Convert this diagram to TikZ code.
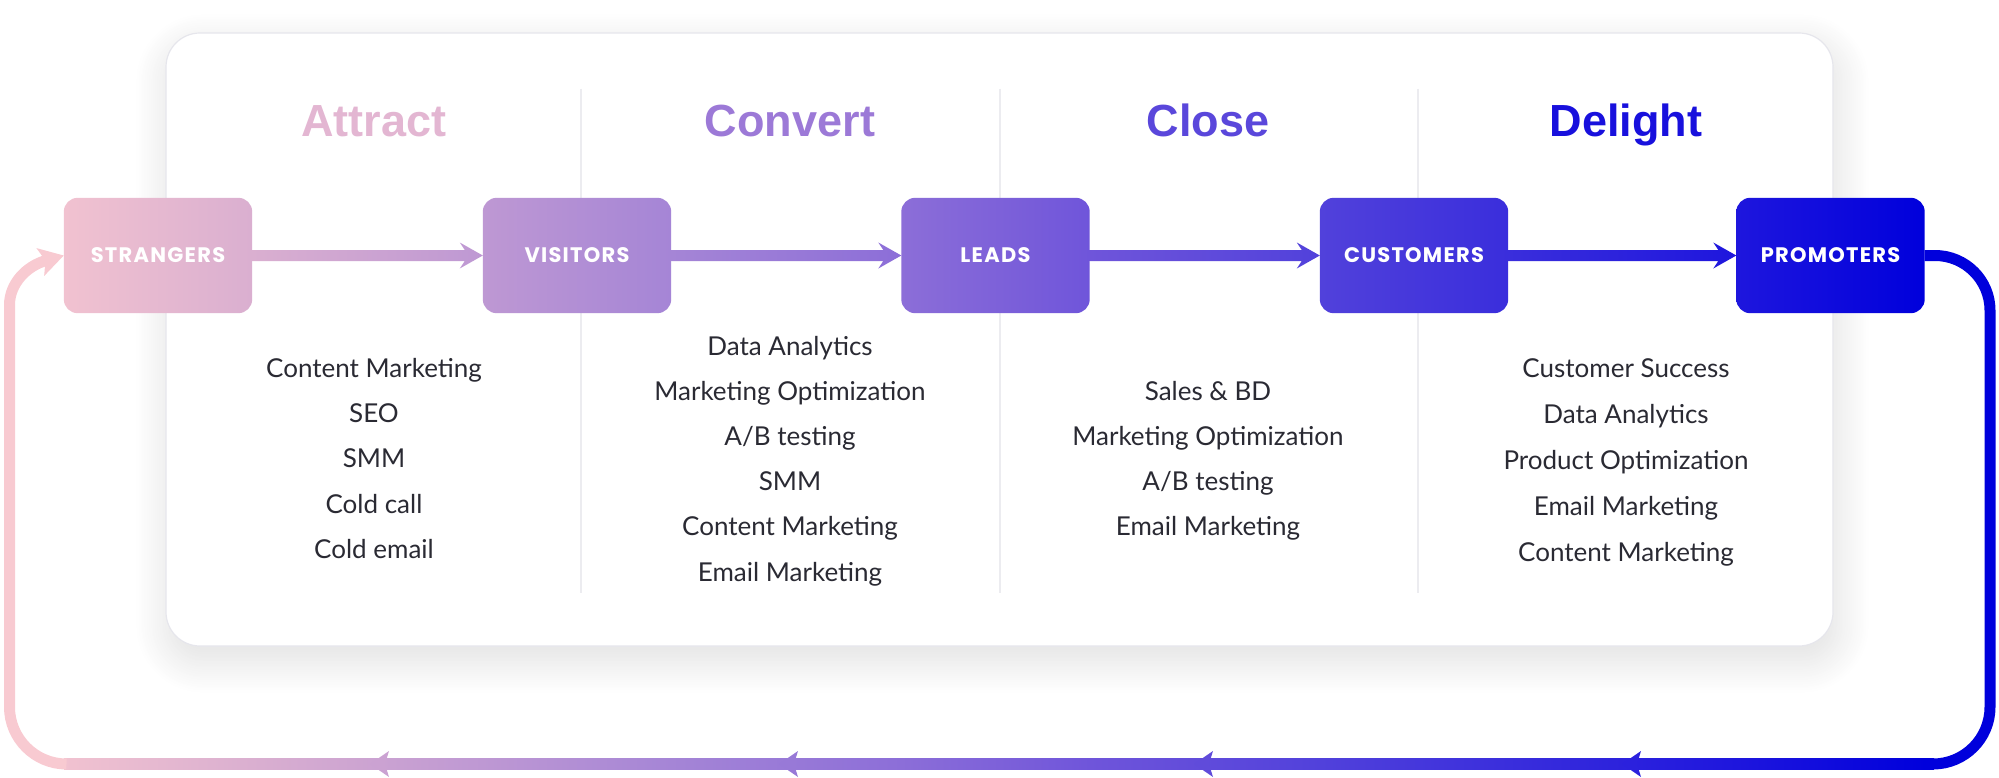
\documentclass[tikz,border=0pt]{standalone}
\usepackage{fontspec}
\setmainfont{Lato}
\newfontfamily\headfont{Liberation Sans}
\newfontfamily\boxfont[LetterSpace=6]{Poppins}
\usetikzlibrary{arrows.meta,calc,shadows.blur}
\definecolor{g0}{HTML}{F8CAD1}
\definecolor{g1}{HTML}{F1C2D0}
\definecolor{g2}{HTML}{DAAFD0}
\definecolor{g3}{HTML}{BE98D3}
\definecolor{g4}{HTML}{A585D6}
\definecolor{g5}{HTML}{8C6ED8}
\definecolor{g6}{HTML}{6F55DA}
\definecolor{g7}{HTML}{5141DB}
\definecolor{g8}{HTML}{3A2EDC}
\definecolor{g9}{HTML}{1E16DD}
\definecolor{g10}{HTML}{0000DC}
\definecolor{g11}{HTML}{0000DC}
\definecolor{hA}{HTML}{E3B6D2}
\definecolor{hB}{HTML}{9C79D7}
\definecolor{hC}{HTML}{5A47DB}
\definecolor{hD}{HTML}{1810DD}
\definecolor{ink}{HTML}{2A2A33}
\definecolor{cardline}{HTML}{E6E6EC}
\definecolor{divc}{HTML}{ECECF0}
\definecolor{m1}{HTML}{CBA2D2}
\definecolor{m2}{HTML}{9879D7}
\definecolor{m3}{HTML}{604BDA}
\definecolor{m4}{HTML}{2B21DD}
\pgfdeclarehorizontalshading{funnel}{100bp}{color(0bp)=(g0); color(25bp)=(g0); color(26.6bp)=(g1); color(31.3bp)=(g2); color(37.06bp)=(g3); color(41.78bp)=(g4); color(47.54bp)=(g5); color(52.26bp)=(g6); color(58.02bp)=(g7); color(62.72bp)=(g8); color(68.42bp)=(g9); color(73.15bp)=(g10); color(75bp)=(g11); color(100bp)=(g11)}
\pgfdeclarelayer{bg}
\pgfdeclarelayer{mid}
\pgfsetlayers{bg,mid,main}
\begin{document}
\begin{tikzpicture}[x=1pt,y=-1pt,
  stage/.style={minimum width=188pt, minimum height=115pt, inner sep=0pt, text=white,
    font=\boxfont\bfseries\fontsize{21}{24}\selectfont},
  head/.style={anchor=base, font=\headfont\bfseries\fontsize{45}{50}\selectfont},
  item/.style={anchor=base, text=ink, font=\fontsize{26}{30}\selectfont, inner sep=0pt},
  loopline/.style={line width=11pt},
  divider/.style={draw=divc, line width=1.3pt}]
\useasboundingbox (0,0) rectangle (1999,778);

% stages
\node[stage] (str) at (158,255.5) {STRANGERS};
\node[stage] (vis) at (577,255.5) {VISITORS};
\node[stage] (lea) at (995.5,255.5) {LEADS};
\node[stage] (cus) at (1414,255.5) {CUSTOMERS};
\node[stage] (pro) at (1830.5,255.5) {PROMOTERS};

% headings
\node[head,text=hA] (hatt) at (374,137) {Attract};
\node[head,text=hB] (hcon) at (790,137) {Convert};
\node[head,text=hC] (hclo) at (1208,137) {Close};
\node[head,text=hD] (hdel) at (1626,137) {Delight};

% lists
\foreach \t [count=\i] in {Content Marketing, SEO, SMM, Cold call, Cold email}
  \node[item] (a\i) at (374,{377+45.4*(\i-1)}) {\t};
\foreach \t [count=\i] in {Data Analytics, Marketing Optimization, A/B testing, SMM, Content Marketing, Email Marketing}
  \node[item] (b\i) at (790,{355+45.2*(\i-1)}) {\t};
\foreach \t [count=\i] in {Sales \& BD, Marketing Optimization, A/B testing, Email Marketing}
  \node[item] (c\i) at (1208,{400+45.2*(\i-1)}) {\t};
\foreach \t [count=\i] in {Customer Success, Data Analytics, Product Optimization, Email Marketing, Content Marketing}
  \node[item] (d\i) at (1626,{377+46*(\i-1)}) {\t};

\begin{pgfonlayer}{bg}
  \draw[fill=white, draw=cardline, line width=1.2pt, rounded corners=34pt,
    blur shadow={shadow xshift=3pt, shadow yshift=-14pt, shadow blur radius=34pt,
      shadow blur steps=30, shadow opacity=13}]
    (166,33) rectangle (1833,646);
  \foreach \x in {581,1000,1418}
    \draw[divider] (\x,89) -- (\x,593);
\end{pgfonlayer}

\begin{pgfonlayer}{mid}
  % box fills with global gradient
  \foreach \n in {str,vis,lea,cus,pro} {
    \begin{scope}
      \clip[rounded corners=14pt] (\n.south west) rectangle (\n.north east);
      \shade[shading=funnel] (0,0) rectangle (1999,778);
    \end{scope}
  }
  % arrows between stages
  \foreach \a/\b in {str/vis,vis/lea,lea/cus,cus/pro} {
    \begin{scope}
      \clip ($(\a.east)+(0,-5.5)$) -- ($(\b.west)+(-18,-5.5)$) -- ($(\b.west)+(-23,-13)$)
        -- (\b.west) -- ($(\b.west)+(-23,13)$) -- ($(\b.west)+(-18,5.5)$)
        -- ($(\a.east)+(0,5.5)$) -- cycle;
      \shade[shading=funnel] (0,0) rectangle (1999,778);
    \end{scope}
  }
  % return loop: bottom straight part
  \begin{scope}
    \clip (64,758.5) rectangle (1934,769.5);
    \shade[shading=funnel] (0,0) rectangle (1999,778);
  \end{scope}
  % right part
  \draw[loopline, draw=g11] (pro.east) -- (1935,255.5) arc[start angle=-90, end angle=0, radius=55]
    -- (1990,707) arc[start angle=0, end angle=90, radius=57] -- (1933,764);
  % left part into strangers
  \draw[loopline, draw=g0, -{Stealth[length=24pt,width=28pt,inset=5pt]}]
    (66.5,764) arc[start angle=90, end angle=180, radius=57] -- (9.5,305)
    .. controls (9.5,284) and (26,266) .. (str.west);
  % direction marks on the bottom
  \foreach \x/\c in {370/m1, 779/m2, 1194/m3, 1622/m4}
    \fill[\c] (\x,764) -- (\x+19,751) -- (\x+15,764) -- (\x+19,777) -- cycle;
\end{pgfonlayer}
\end{tikzpicture}
\end{document}
